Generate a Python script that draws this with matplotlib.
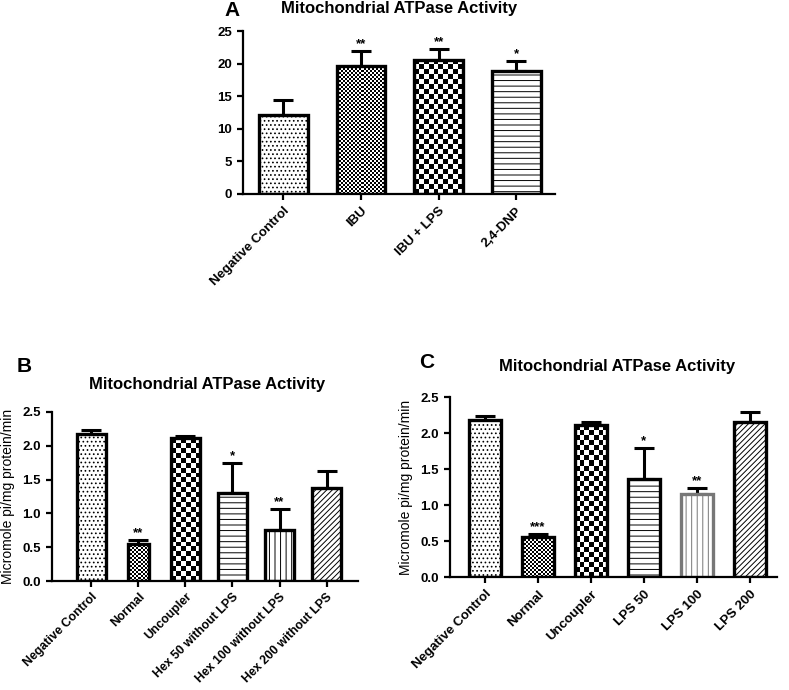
import numpy as np
import matplotlib.pyplot as plt

plt.rcParams['font.family'] = ['Liberation Sans', 'DejaVu Sans']
plt.rcParams['font.weight'] = 'bold'
plt.rcParams['hatch.linewidth'] = 0.7

# panel A
a_labels = ['Negative Control', 'IBU', 'IBU + LPS', '2,4-DNP']
a_means = [12.1, 19.6, 20.6, 18.8]
a_err = [2.3, 2.3, 1.7, 1.6]
a_stars = ['', '**', '**', '*']

# panel B
b_labels = ['Negative Control', 'Normal', 'Uncoupler', 'Hex 50 without LPS',
            'Hex 100 without LPS', 'Hex 200 without LPS']
b_means = [2.18, 0.55, 2.11, 1.30, 0.75, 1.38]
b_err = [0.05, 0.05, 0.04, 0.44, 0.31, 0.25]
b_stars = ['', '**', '', '*', '**', '']

# panel C
c_labels = ['Negative Control', 'Normal', 'Uncoupler', 'LPS 50', 'LPS 100', 'LPS 200']
c_means = [2.18, 0.55, 2.11, 1.36, 1.15, 2.15]
c_err = [0.05, 0.05, 0.04, 0.43, 0.09, 0.14]
c_stars = ['', '***', '', '*', '**', '']


def checker(ax, bar, cell):
    # fill a bar with a checkerboard clipped to it
    x0 = bar.get_x()
    w = bar.get_width()
    h = bar.get_height()
    bb = ax.transData.transform([[x0, 0], [x0 + w, h]])
    nx = max(1, int(round((bb[1, 0] - bb[0, 0]) / cell)))
    ny = max(1, int(round((bb[1, 1] - bb[0, 1]) / cell)))
    board = (np.add.outer(np.arange(ny), np.arange(nx)) % 2).astype(float)
    im = ax.imshow(board, extent=[x0, x0 + w, 0, h], cmap='gray', vmin=0, vmax=1,
                   interpolation='none', aspect='auto', zorder=1.5)
    im.set_clip_path(bar)


def panel(ax, labels, means, err, stars, fills, width, xlim, ylim, yticks, fmt,
          edges=None, xfs=9.5):
    x = np.arange(len(means))
    ax.set_xlim(*xlim)
    ax.set_ylim(*ylim)
    bars = ax.bar(x, means, width=width, color='white', edgecolor='black',
                  linewidth=2.4, zorder=2)
    ax.set_xlim(*xlim)
    ax.set_ylim(*ylim)
    for i, b in enumerate(bars):
        f = fills[i]
        if f.startswith('check'):
            checker(ax, b, 2.0 if f == 'check_fine' else 5.0)
            b.set_facecolor('none')
        else:
            b.set_hatch(f)
        if edges is not None and edges[i]:
            b.set_edgecolor(edges[i])
    ax.set_xlim(*xlim)
    ax.set_ylim(*ylim)
    for i in range(len(means)):
        ax.errorbar(x[i], means[i], yerr=[[0], [err[i]]], fmt='none', ecolor='black',
                    elinewidth=2.2, capsize=7, capthick=2.2, zorder=1)
        if stars[i]:
            ax.text(x[i], means[i] + err[i] + (ylim[1] * 0.005), stars[i],
                    ha='center', va='bottom', fontsize=9.5)
    ax.set_yticks(yticks)
    ax.set_yticklabels([fmt.format(t) for t in yticks], fontsize=9.5)
    ax.set_xticks(x)
    ax.set_xticklabels(labels, rotation=45, ha='right', rotation_mode='anchor',
                       fontsize=xfs)
    ax.spines['top'].set_visible(False)
    ax.spines['right'].set_visible(False)
    ax.spines['left'].set_linewidth(1.6)
    ax.spines['bottom'].set_linewidth(1.6)
    ax.tick_params(direction='out', length=4, width=1.6, pad=4)


W, H = 789, 690
fig = plt.figure(figsize=(W / 100, H / 100), dpi=100)


def rect(l, r, t, b):
    return [l / W, 1 - b / H, (r - l) / W, (b - t) / H]


axA = fig.add_axes(rect(243, 555, 31, 194))
panel(axA, a_labels, a_means, a_err, a_stars,
      ['....', 'check_fine', 'check', '---'], 0.63, (-0.52, 3.5), (0, 25),
      [0, 5, 10, 15, 20, 25], '{:d}')
fig.text(232 / W, 1 - 11 / H, 'A', fontsize=15, va='center', ha='center')
fig.text(399 / W, 1 - 9 / H, 'Mitochondrial ATPase Activity', fontsize=12,
         va='center', ha='center')

axB = fig.add_axes(rect(52, 358, 412, 581))
panel(axB, b_labels, b_means, b_err, b_stars,
      ['....', 'check_fine', 'check', '---', '|||', '//////'],
      [0.62, 0.43, 0.62, 0.62, 0.62, 0.62], (-0.84, 5.67), (0, 2.5),
      [0.0, 0.5, 1.0, 1.5, 2.0, 2.5], '{:.1f}', xfs=8.8)
axB.tick_params(axis='x', pad=3)
axB.set_ylabel('Micromole pi/mg protein/min', fontsize=10, labelpad=5)
fig.text(24 / W, 1 - 367 / H, 'B', fontsize=15, va='center', ha='center')
fig.text(207 / W, 1 - 385 / H, 'Mitochondrial ATPase Activity', fontsize=12,
         va='center', ha='center')

axC = fig.add_axes(rect(450, 777, 397, 577))
panel(axC, c_labels, c_means, c_err, c_stars,
      ['....', 'check_fine', 'check', '---', '|||', '//////'], 0.62, (-0.66, 5.51),
      (0, 2.5), [0.0, 0.5, 1.0, 1.5, 2.0, 2.5], '{:.1f}',
      edges=['', '', '', '', '#777777', ''])
axC.set_ylabel('Micromole pi/mg protein/min', fontsize=10, labelpad=5)
fig.text(427 / W, 1 - 363 / H, 'C', fontsize=15, va='center', ha='center')
fig.text(617 / W, 1 - 367 / H, 'Mitochondrial ATPase Activity', fontsize=12,
         va='center', ha='center')

fig.savefig('out.png', dpi=100)
